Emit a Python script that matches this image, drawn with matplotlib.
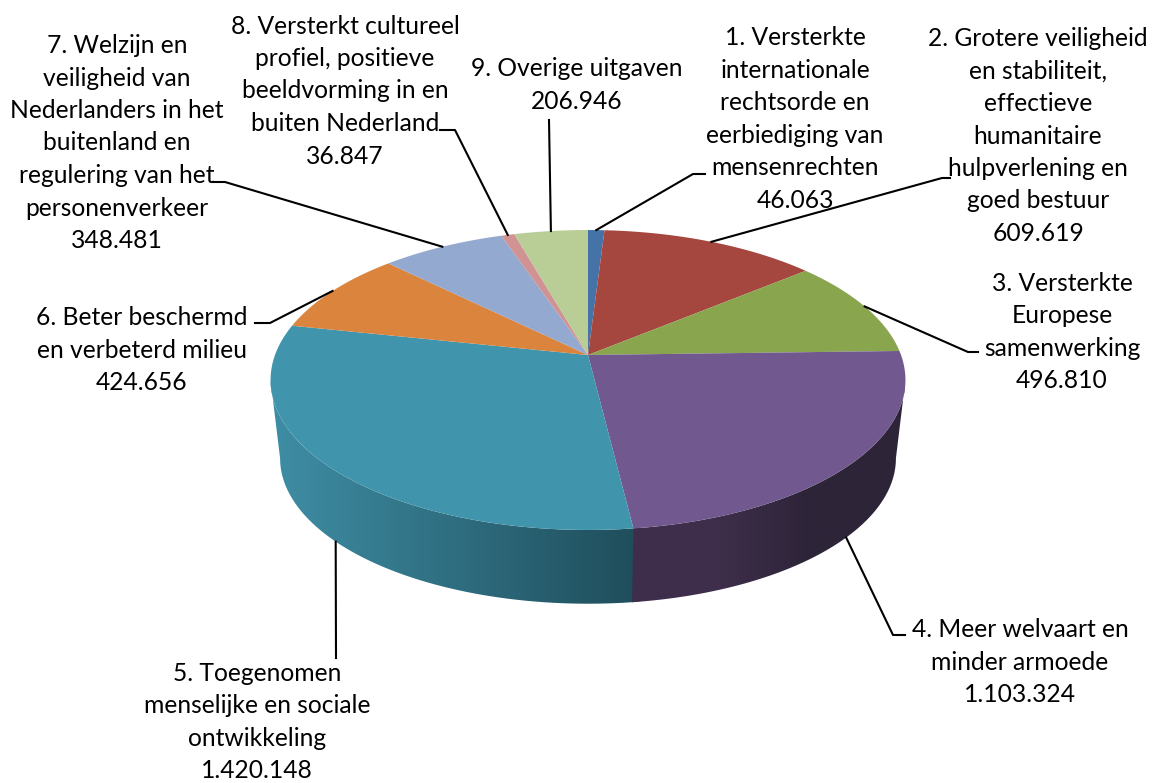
import numpy as np
import matplotlib
matplotlib.use('Agg')
import matplotlib.pyplot as plt
from matplotlib.colors import LinearSegmentedColormap
from matplotlib.patches import Polygon

# Values per policy goal, clockwise from 12 o'clock
values = [46063, 609619, 496810, 1103324, 1420148, 424656, 348481, 36847, 206946]
value_labels = ['46.063', '609.619', '496.810', '1.103.324', '1.420.148',
                '424.656', '348.481', '36.847', '206.946']
names = [
    '1. Versterkte\ninternationale\nrechtsorde en\neerbiediging van\nmensenrechten',
    '2. Grotere veiligheid\nen stabiliteit,\neffectieve\nhumanitaire\nhulpverlening en\ngoed bestuur',
    '3. Versterkte\nEuropese\nsamenwerking',
    '4. Meer welvaart en\nminder armoede',
    '5. Toegenomen\nmenselijke en sociale\nontwikkeling',
    '6. Beter beschermd\nen verbeterd milieu',
    '7. Welzijn en\nveiligheid van\nNederlanders in het\nbuitenland en\nregulering van het\npersonenverkeer',
    '8. Versterkt cultureel\nprofiel, positieve\nbeeldvorming in en\nbuiten Nederland',
    '9. Overige uitgaven',
]
colors = ['#4572A7', '#A5463F', '#89A54E', '#71588F', '#4095AD',
          '#DB843D', '#93A9CF', '#D09292', '#B9CD96']

# Side wall shading: colours and the x range the gradient runs over.
# Teal goes first so the purple wall sits on top of the shared edge.
side_shades = {4: (['#3F8EA5', '#1F4D5B'], 270, 640),
               3: (['#3E2E4B', '#3E2E4B', '#2D2438', '#2D2438'], 625, 905)}

# Label centres (x, y of the block centre) and leader line bends, in pixels
label_pos = [(795, 119), (1038, 136), (1062, 332), (1020, 662), (257, 722),
             (142, 350), (117, 143), (345, 91), (577, 85)]
leader_bends = [[(693, 174), (705, 174)], [(942, 178), (950, 178)],
                [(968, 352), (978, 352)], [(893, 635), (905, 635)], [(336, 658)],
                [(270, 323), (255, 323)], [(225, 182), (213, 182)],
                [(455, 130), (440, 130)], [(549, 120)]]

# Projection of the tilted pie
CX, CY = 588, 355
RX, RY = 313, 145.8
PERSP = 1 / 6
DROP = 79
BOTTOM_SCALE = 0.97


def rim(theta, bottom=False):
    u, v = np.sin(theta), np.cos(theta)
    d = 1 + PERSP * v
    s = BOTTOM_SCALE if bottom else 1.0
    return CX + s * RX * u / d, CY + (DROP if bottom else 0) - s * RY * v / d


plt.rcParams['font.family'] = ['Lato', 'DejaVu Sans']

fig = plt.figure(figsize=(11.54, 7.83), dpi=100)
ax = fig.add_axes([0, 0, 1, 1])
ax.axis('off')

edges = 2 * np.pi * np.concatenate([[0], np.cumsum(values)]) / sum(values)

# The wall only shows between the two points where the rim turns back
wall_from = np.arccos(-PERSP)
wall_to = 2 * np.pi - wall_from

# Side wall first, then the top face covers whatever is behind it
for i, (shades, x0, x1) in side_shades.items():
    # teal runs a little under the purple wall so no white seam shows
    start = edges[i] - 0.02 if i == 4 else edges[i]
    t = np.linspace(max(start, wall_from), min(edges[i + 1], wall_to), 160)
    xt, yt = rim(t)
    xb, yb = rim(t, bottom=True)
    outline = list(zip(xt, yt)) + list(zip(xb[::-1], yb[::-1]))
    cmap = LinearSegmentedColormap.from_list('side', shades)
    im = ax.imshow(np.linspace(0, 1, 256).reshape(1, -1), cmap=cmap, aspect='auto',
                   extent=(x0, x1, 700, 300), interpolation='bilinear')
    im.set_clip_path(Polygon(outline, closed=True, transform=ax.transData))

for i in range(len(values)):
    t = np.linspace(edges[i], edges[i + 1], 120)
    xt, yt = rim(t)
    pts = [(CX, CY)] + list(zip(xt, yt))
    ax.add_patch(Polygon(pts, closed=True, facecolor=colors[i], edgecolor='none', zorder=2))

for i in range(len(values)):
    mid = (edges[i] + edges[i + 1]) / 2
    start = rim(mid, bottom=i in side_shades)
    pts = [start] + leader_bends[i]
    ax.plot([p[0] for p in pts], [p[1] for p in pts], color='black', lw=1.5, zorder=3)
    ax.text(label_pos[i][0], label_pos[i][1], names[i] + '\n' + value_labels[i],
            ha='center', va='center', fontsize=17.7, linespacing=1.5, color='black', zorder=4)

ax.set_xlim(0, 1154)
ax.set_ylim(783, 0)

fig.savefig('out.png', dpi=100)
